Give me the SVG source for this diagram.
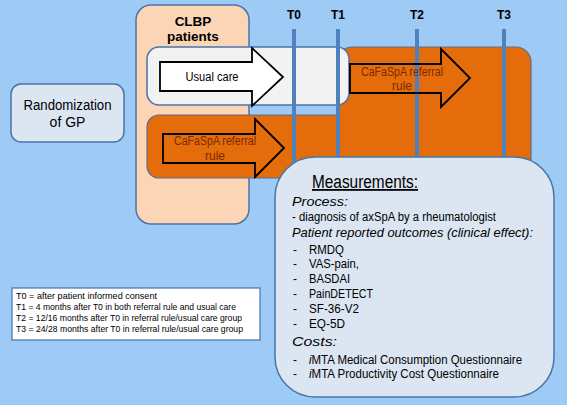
<svg xmlns="http://www.w3.org/2000/svg" width="567" height="405" viewBox="0 0 567 405">
<defs>
<style>
.bg{fill:#9ECBF6}
.node{stroke:#4A74A8;stroke-width:1.5}
.orange{fill:#E46C0A;stroke:#5A6E8C;stroke-width:1.2}
.arrow{fill:none;stroke:#000;stroke-width:1.8;stroke-linejoin:miter}
.tl{stroke:#4F81BD;stroke-width:4}
text{font-family:"Liberation Sans",Arial,sans-serif;fill:#000}
.arr{font-size:12px;fill:#7A2A00}
.tlab{font-size:12px;font-weight:bold}
.it{font-style:italic;font-size:13.5px}
.m{font-size:12px}
.lg{font-size:9.5px}
</style>
</defs>
<rect class="bg" x="0" y="0" width="567" height="405"/>
<g id="randomization">
<rect class="node" x="11" y="84" width="113" height="58" rx="10" fill="#DCE6F2"/>
<text x="67.5" y="110" font-size="14" text-anchor="middle" textLength="88" lengthAdjust="spacingAndGlyphs">Randomization</text>
<text x="67.5" y="127" font-size="14" text-anchor="middle">of GP</text>
</g>
<g id="clbp">
<rect class="node" x="136" y="5" width="113" height="219" rx="15" fill="#FBD5B5"/>
<text x="193" y="26" font-size="13.5" font-weight="bold" text-anchor="middle">CLBP</text>
<text x="193" y="41" font-size="13.5" font-weight="bold" text-anchor="middle">patients</text>
</g>
<g id="referral-lower">
<rect class="orange" x="147" y="115" width="250" height="63" rx="12"/>
</g>
<g id="referral-upper">
<rect class="orange" x="337" y="47" width="194" height="160" rx="15"/>
</g>
<g id="usual-care">
<rect class="node" x="147" y="47" width="202" height="58" rx="12" fill="#F2F2F2"/>
<path d="M160,62 H252 V48 L283,77 L252,106 V91 H160 Z" fill="#FFFFFF" stroke="#000" stroke-width="1.8"/>
<text x="212" y="81" font-size="12" fill="#333" text-anchor="middle" textLength="53" lengthAdjust="spacingAndGlyphs">Usual care</text>
</g>
<g id="timelines">
<line class="tl" x1="294" y1="29" x2="294" y2="180"/>
<line class="tl" x1="338" y1="29" x2="338" y2="180"/>
<line class="tl" x1="417" y1="29" x2="417" y2="180"/>
<line class="tl" x1="504" y1="29" x2="504" y2="180"/>
<text class="tlab" x="294" y="19" text-anchor="middle">T0</text>
<text class="tlab" x="338" y="19" text-anchor="middle">T1</text>
<text class="tlab" x="417" y="19" text-anchor="middle">T2</text>
<text class="tlab" x="504" y="19" text-anchor="middle">T3</text>
</g>
<g id="referral-lower-arrow">
<path class="arrow" d="M163,134 H255 V119 L284,148 L255,177 V163 H163 Z"/>
<text class="arr" x="215" y="145" text-anchor="middle" textLength="82" lengthAdjust="spacingAndGlyphs">CaFaSpA referral</text>
<text class="arr" x="215" y="160" text-anchor="middle">rule</text>
</g>
<g id="referral-upper-arrow">
<path class="arrow" d="M350,64 H441 V49 L470,78 L441,107 V93 H350 Z"/>
<text class="arr" x="402" y="76" text-anchor="middle" textLength="82" lengthAdjust="spacingAndGlyphs">CaFaSpA referral</text>
<text class="arr" x="402" y="90" text-anchor="middle">rule</text>
</g>
<g id="measurements">
<rect class="node" x="275" y="157" width="279" height="240" rx="40" fill="#DCE6F2"/>
<text x="365" y="188" font-size="18" text-anchor="middle" text-decoration="underline" textLength="106" lengthAdjust="spacingAndGlyphs">Measurements:</text>
<text class="it" x="292" y="206" textLength="56" lengthAdjust="spacingAndGlyphs">Process:</text>
<text class="m" x="292" y="221" textLength="204" lengthAdjust="spacingAndGlyphs">- diagnosis of axSpA by a rheumatologist</text>
<text class="it" x="292" y="237" textLength="241" lengthAdjust="spacingAndGlyphs">Patient reported outcomes (clinical effect):</text>
<text class="m" x="293" y="254">-</text><text class="m" x="309" y="254" textLength="35" lengthAdjust="spacingAndGlyphs">RMDQ</text>
<text class="m" x="293" y="268">-</text><text class="m" x="309" y="268" textLength="50" lengthAdjust="spacingAndGlyphs">VAS-pain,</text>
<text class="m" x="293" y="283">-</text><text class="m" x="309" y="283" textLength="41" lengthAdjust="spacingAndGlyphs">BASDAI</text>
<text class="m" x="293" y="298">-</text><text class="m" x="309" y="298" textLength="64" lengthAdjust="spacingAndGlyphs">PainDETECT</text>
<text class="m" x="293" y="313">-</text><text class="m" x="309" y="313" textLength="50" lengthAdjust="spacingAndGlyphs">SF-36-V2</text>
<text class="m" x="293" y="328">-</text><text class="m" x="309" y="328" textLength="36" lengthAdjust="spacingAndGlyphs">EQ-5D</text>
<text class="it" x="292" y="346" textLength="45" lengthAdjust="spacingAndGlyphs">Costs:</text>
<text class="m" x="293" y="364">-</text><text class="m" x="309" y="364" textLength="213" lengthAdjust="spacingAndGlyphs"><tspan font-style="italic">i</tspan>MTA Medical Consumption Questionnaire</text>
<text class="m" x="293" y="378">-</text><text class="m" x="309" y="378" textLength="190" lengthAdjust="spacingAndGlyphs"><tspan font-style="italic">i</tspan>MTA Productivity Cost Questionnaire</text>
</g>
<g id="legend">
<rect x="12" y="288" width="248" height="52" fill="#FFFFFF" stroke="#4A74A8" stroke-width="1.2"/>
<text class="lg" x="16" y="299" textLength="141" lengthAdjust="spacingAndGlyphs">T0 = after patient informed consent</text>
<text class="lg" x="16" y="310" textLength="220" lengthAdjust="spacingAndGlyphs">T1 = 4 months after T0 in both referral rule and usual care</text>
<text class="lg" x="16" y="321" textLength="226" lengthAdjust="spacingAndGlyphs">T2 = 12/16 months after T0 in referral rule/usual care group</text>
<text class="lg" x="16" y="332" textLength="227" lengthAdjust="spacingAndGlyphs">T3 = 24/28 months after T0 in referral rule/usual care group</text>
</g>
</svg>
